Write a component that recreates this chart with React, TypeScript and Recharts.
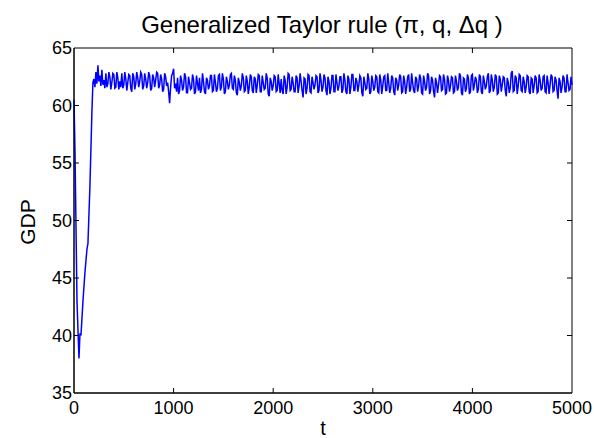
import { LineChart, Line, XAxis, YAxis, CartesianGrid } from "recharts";

// initial transient (t, GDP)
const startT = [0, 10, 30, 50, 60, 70, 90, 110, 130, 140, 160, 180, 190];
const startGdp = [60.5, 56.0, 43.0, 38.0, 40.2, 40.0, 43.0, 45.5, 47.5, 48.0, 53.0, 59.5, 62.0];

// steady-state noisy part, read every 20 from t = 200
const steadyStartT = 200;
const steadyStep = 20;
const steadyGdp = [
  62.3, 62.9, 63.5, 62.6, 63.1, 62.2, 62.8, 61.9, 62.5, 62.0, 62.7, 61.6, 62.4, 62.1, 62.8, 61.8, 62.3, 62.0, 62.6, 61.2,
  62.5, 61.9, 62.4, 62.1, 62.7, 61.7, 62.3, 62.0, 62.6, 61.5, 62.4, 62.2, 62.8, 61.8, 62.3, 61.4, 62.5, 62.0, 60.2, 62.6, 63.2,
  61.9, 62.4, 61.3, 62.2, 61.6, 62.5, 61.1, 62.0, 61.5, 62.3, 61.2, 61.9, 62.4, 61.4, 62.1, 61.0, 62.2, 61.7, 62.6, 61.3,
  62.0, 61.5, 62.7, 61.6, 62.3, 61.2, 62.1, 61.8, 62.8, 61.4, 62.2, 60.9, 62.0, 61.7, 62.4, 61.3, 62.1, 61.6, 62.5, 61.1,
  62.3, 61.8, 62.6, 61.2, 62.0, 61.5, 62.4, 60.8, 62.1, 61.7, 62.5, 61.3, 61.9, 62.3, 61.0, 62.2, 61.6, 62.7, 61.4, 62.0,
  61.2, 62.4, 61.7, 62.1, 60.7, 62.3, 61.5, 62.6, 61.1, 62.0, 61.8, 62.5, 61.3, 62.2, 61.6, 62.4, 60.9, 62.1, 61.5, 62.6,
  61.2, 62.0, 61.7, 62.5, 61.4, 62.2, 61.0, 62.3, 61.6, 62.7, 61.3, 62.1, 61.8, 62.4, 60.8, 62.0, 61.5, 62.3, 61.2, 62.1,
  61.6, 62.5, 61.1, 62.2, 61.7, 62.6, 61.3, 62.0, 61.5, 62.4, 60.9, 62.2, 61.8, 62.5, 61.2, 62.1, 61.6, 62.7, 61.4, 62.0,
  61.1, 62.3, 61.7, 62.4, 61.0, 62.1, 61.6, 62.6, 61.3, 62.2, 60.7, 62.0, 61.8, 62.5, 61.4, 62.3, 61.1, 62.2, 61.7, 62.4,
  61.2, 62.1, 61.6, 62.6, 60.9, 62.3, 61.5, 62.4, 61.2, 62.7, 61.8, 62.2, 61.4, 62.5, 61.0, 62.1, 61.7, 62.8, 61.3, 62.2,
  61.6, 62.5, 61.1, 62.3, 61.8, 62.4, 60.8, 62.0, 61.5, 63.0, 61.3, 62.4, 61.7, 62.6, 61.2, 62.1, 61.6, 62.5, 61.0, 62.3,
  61.7, 62.4, 61.2, 62.2, 61.5, 62.6, 61.1, 62.0, 61.8, 62.5, 61.3, 62.2, 60.6, 62.1, 61.6, 62.4, 61.2, 62.0, 61.4, 61.8,
];

// in-between readings, every 20 from t = 210
const midStartT = 210;
const midGdp = [
  61.6, 61.9, 62.1, 61.7, 61.8, 61.5, 61.6, 62.9, 61.4, 62.8, 61.5, 62.9, 61.4, 61.6, 61.5, 62.9, 61.3, 62.7, 61.5, 62.8,
  61.4, 62.9, 61.6, 62.9, 61.4, 62.8, 61.5, 62.9, 61.3, 62.7, 61.6, 62.9, 61.5, 62.7, 61.2, 62.8, 61.7, 61.2, 61.6, 62.8,
  61.5,
  61.2, 61.0, 62.6, 61.3, 62.8, 61.1, 62.5, 61.4, 62.7, 61.0, 62.6, 61.3, 61.1, 62.8, 61.2, 62.4, 61.4, 62.6, 61.2, 62.7,
  61.2, 62.6, 61.3, 62.8, 61.0, 62.5, 61.4, 62.7, 61.5, 62.6, 61.1, 62.4, 61.3, 62.8, 61.2, 62.6, 61.0, 62.7, 61.3, 62.5,
  61.1, 62.7, 61.2, 62.6, 61.4, 62.8, 61.0, 62.4, 61.3, 62.6, 61.2, 62.7, 61.1, 61.3, 62.6, 61.0, 62.8, 61.3, 62.5, 61.2,
  62.6, 61.1, 62.8, 61.3, 62.4, 61.0, 62.7, 61.2, 62.5, 61.4, 62.6, 61.1, 62.8, 61.2, 62.7, 61.3, 62.5, 61.0, 62.6, 61.2,
  62.7, 61.3, 62.5, 61.1, 62.8, 61.2, 62.6, 61.0, 62.7, 61.3, 62.4, 61.2, 62.6, 61.1, 62.5, 61.4, 62.8, 61.0, 62.6, 61.3,
  62.6, 61.2, 62.7, 61.0, 62.5, 61.3, 62.8, 61.1, 62.6, 61.2, 62.4, 61.3, 62.7, 61.1, 62.6, 61.0, 62.5, 61.2, 62.8, 61.3,
  62.5, 61.2, 62.7, 61.1, 62.6, 61.3, 62.8, 61.0, 62.5, 61.2, 62.4, 61.1, 62.6, 61.3, 62.7, 61.0, 62.6, 61.2, 62.5, 61.1,
  62.6, 61.3, 62.8, 61.1, 62.4, 61.2, 62.7, 61.0, 62.6, 61.3, 62.5, 61.1, 62.7, 61.2, 62.6, 61.4, 62.5, 61.1, 62.7, 61.2,
  62.7, 61.0, 62.6, 61.2, 62.5, 61.3, 62.4, 61.1, 62.8, 61.2, 62.6, 61.0, 62.7, 61.3, 62.5, 61.1, 62.6, 61.2, 62.4, 61.1,
  62.6, 61.1, 62.7, 61.3, 62.5, 61.2, 62.6, 61.0, 62.7, 61.2, 62.5, 61.3, 62.4, 61.1, 62.6, 61.2, 62.7, 61.3, 62.5,
];

const xTicks = [0, 1000, 2000, 3000, 4000, 5000];
const yTicks = [35, 40, 45, 50, 55, 60, 65];

const data = [
  ...startT.map((t, i) => ({ t, gdp: startGdp[i] })),
  ...steadyGdp.map((v, i) => ({ t: steadyStartT + i * steadyStep, gdp: v })),
  ...midGdp.map((v, i) => ({ t: midStartT + i * steadyStep, gdp: v })),
].sort((a, b) => a.t - b.t);

const FONT = "'Liberation Sans', Arial, Helvetica, sans-serif";
const PLOT = { left: 74, right: 572, top: 48, bottom: 393 };
const TICK_LEN = 5;

const XTick = ({ x, payload }: any) => {
  const edge = payload.value === 0 || payload.value === 5000;
  return (
    <g>
      {!edge && (
        <>
          <line x1={x} x2={x} y1={PLOT.bottom} y2={PLOT.bottom - TICK_LEN} stroke="#000" />
          <line x1={x} x2={x} y1={PLOT.top} y2={PLOT.top + TICK_LEN} stroke="#000" />
        </>
      )}
      <text x={x} y={PLOT.bottom + 21} textAnchor="middle" fontSize={18} fontFamily={FONT} fill="#000">
        {payload.value}
      </text>
    </g>
  );
};

const YTick = ({ y, payload }: any) => {
  const edge = payload.value === 35 || payload.value === 65;
  return (
    <g>
      {!edge && (
        <>
          <line x1={PLOT.left} x2={PLOT.left + TICK_LEN} y1={y} y2={y} stroke="#000" />
          <line x1={PLOT.right} x2={PLOT.right - TICK_LEN} y1={y} y2={y} stroke="#000" />
        </>
      )}
      <text x={PLOT.left - 2} y={y + 6} textAnchor="end" fontSize={18} fontFamily={FONT} fill="#000">
        {payload.value}
      </text>
    </g>
  );
};

export default function App() {
  return (
    <div style={{ position: "absolute", left: 0, top: 0, width: 594, height: 438, background: "#fff" }}>
      <LineChart
        width={594}
        height={438}
        data={data}
        margin={{ top: PLOT.top, right: 594 - PLOT.right, left: 0, bottom: 0 }}
      >
        <text x={322} y={33} textAnchor="middle" fontSize={24} fontFamily={FONT} fill="#000">
          Generalized Taylor rule (π, q, Δq )
        </text>
        <text
          x={35}
          y={222}
          transform="rotate(-90 35 222)"
          textAnchor="middle"
          fontSize={21}
          fontFamily={FONT}
          fill="#000"
        >
          GDP
        </text>
        <text x={323} y={435} textAnchor="middle" fontSize={20} fontFamily={FONT} fill="#000">
          t
        </text>
        <CartesianGrid
          horizontalPoints={[PLOT.top, PLOT.bottom]}
          verticalPoints={[PLOT.left, PLOT.right]}
          stroke="#000"
          strokeDasharray="0"
        />
        <XAxis
          dataKey="t"
          type="number"
          domain={[0, 5000]}
          ticks={xTicks}
          height={438 - PLOT.bottom}
          axisLine={{ stroke: "#000" }}
          tickLine={false}
          tick={<XTick />}
          interval={0}
        />
        <YAxis
          type="number"
          domain={[35, 65]}
          ticks={yTicks}
          width={PLOT.left}
          axisLine={{ stroke: "#000" }}
          tickLine={false}
          tick={<YTick />}
          interval={0}
        />
        <Line
          type="linear"
          dataKey="gdp"
          stroke="#0000ff"
          strokeWidth={1.5}
          dot={false}
          isAnimationActive={false}
        />
      </LineChart>
    </div>
  );
}
